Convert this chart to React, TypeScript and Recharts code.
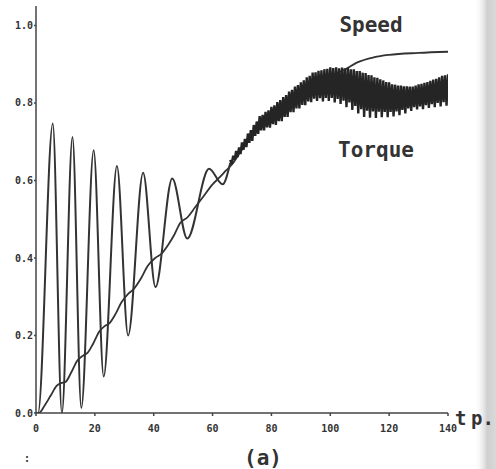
import { LineChart, Line, XAxis, YAxis } from "recharts";

// time (t p.) and per-unit speed
const speedT = [0, 1, 3, 5, 7, 8.5, 10, 12, 14, 16, 17.5, 19.5, 21.5, 23.5, 25, 27, 29, 31.4, 33, 35.5, 38, 40.5, 42.5, 45, 47, 49, 51.5, 54, 57, 60, 62, 64.5, 67, 70, 76, 82, 88, 94, 100, 105, 109, 115, 120, 130, 140];
const speedV = [0, 0, 0.02, 0.045, 0.07, 0.077, 0.08, 0.105, 0.135, 0.148, 0.155, 0.18, 0.21, 0.225, 0.232, 0.255, 0.285, 0.308, 0.318, 0.345, 0.38, 0.4, 0.41, 0.435, 0.46, 0.49, 0.505, 0.53, 0.56, 0.59, 0.605, 0.625, 0.645, 0.68, 0.745, 0.78, 0.82, 0.85, 0.87, 0.886, 0.904, 0.918, 0.924, 0.929, 0.932];

// torque during start-up swings (peaks and troughs)
const torqueT = [0, 0.7, 5.7, 8.8, 12.4, 15.4, 19.6, 23, 27.5, 31.3, 36.4, 40.6, 46.3, 51.4, 58.8, 63.4, 66];
const torqueV = [0, 0, 0.747, 0, 0.712, 0.013, 0.678, 0.094, 0.637, 0.2, 0.62, 0.325, 0.605, 0.45, 0.63, 0.59, 0.645];

// ripple band after t = 66, one value every 0.5
const bandT0 = 66;
const bandStep = 0.5;
const torqueBand = [
  0.653, 0.642, 0.664, 0.653, 0.676, 0.66, 0.685, 0.668, 0.698, 0.679,
  0.707, 0.686, 0.721, 0.697, 0.73, 0.702, 0.743, 0.715, 0.752, 0.72,
  0.766, 0.729, 0.769, 0.729, 0.777, 0.737, 0.781, 0.736, 0.79, 0.745,
  0.794, 0.743, 0.802, 0.753, 0.807, 0.753, 0.815, 0.764, 0.82, 0.764,
  0.829, 0.776, 0.834, 0.776, 0.842, 0.786, 0.846, 0.786, 0.853, 0.795,
  0.858, 0.794, 0.866, 0.804, 0.87, 0.802, 0.878, 0.811, 0.879, 0.805,
  0.883, 0.812, 0.884, 0.804, 0.887, 0.813, 0.888, 0.805, 0.892, 0.813,
  0.89, 0.801, 0.892, 0.81, 0.889, 0.797, 0.891, 0.806, 0.889, 0.789,
  0.891, 0.801, 0.887, 0.782, 0.887, 0.792, 0.882, 0.773, 0.882, 0.784,
  0.878, 0.764, 0.877, 0.78, 0.872, 0.762, 0.871, 0.778, 0.866, 0.761,
  0.865, 0.777, 0.861, 0.763, 0.858, 0.777, 0.854, 0.763, 0.853, 0.777,
  0.848, 0.765, 0.847, 0.778, 0.845, 0.768, 0.845, 0.782, 0.843, 0.773,
  0.843, 0.786, 0.842, 0.779, 0.842, 0.789, 0.845, 0.783, 0.848, 0.791,
  0.849, 0.784, 0.852, 0.794, 0.854, 0.787, 0.857, 0.797, 0.86, 0.789,
  0.862, 0.8, 0.866, 0.791, 0.87, 0.802, 0.871, 0.793, 0.874,
];

const xTicks = [0, 20, 40, 60, 80, 100, 120, 140];
const yTicks = [0, 0.2, 0.4, 0.6, 0.8, 1.0];

const speedData = speedT.map((t, i) => ({ t, v: speedV[i] }));
const torqueData = torqueT.map((t, i) => ({ t, v: torqueV[i] }));
const bandData = torqueBand.map((v, i) => ({ t: bandT0 + i * bandStep, v }));

const ink = "#333";
const mono = "'DejaVu Sans Mono', monospace";

export default function App() {
  return (
    <div style={{ position: "absolute", left: 0, top: 0, width: 496, height: 469, background: "#fff" }}>
      <LineChart width={496} height={469} margin={{ top: 6, right: 48, bottom: 26, left: 0 }}>
        <XAxis
          type="number"
          dataKey="t"
          domain={[0, 140]}
          ticks={xTicks}
          allowDataOverflow
          stroke="#444"
          strokeWidth={1.5}
          tickSize={3}
          tickMargin={9}
          height={30}
          tick={{ fill: ink, fontSize: 10, fontWeight: "bold", fontFamily: mono }}
        />
        <YAxis
          type="number"
          domain={[0, 1.05]}
          ticks={yTicks}
          allowDataOverflow
          width={36}
          stroke="#444"
          strokeWidth={1.5}
          tickSize={2}
          tickMargin={1}
          tickFormatter={(v: number) => v.toFixed(1)}
          tick={{ fill: ink, fontSize: 10, fontWeight: "bold", fontFamily: mono }}
        />
        <Line data={speedData} dataKey="v" type="monotone" stroke={ink} strokeWidth={1.8} dot={false} isAnimationActive={false} />
        <Line data={torqueData} dataKey="v" type="monotone" stroke={ink} strokeWidth={2} dot={false} isAnimationActive={false} />
        <Line data={bandData} dataKey="v" type="linear" stroke="#252525" strokeWidth={2.4} dot={false} isAnimationActive={false} />
      </LineChart>
      <svg width={496} height={469} style={{ position: "absolute", left: 0, top: 0, pointerEvents: "none" }}>
        <defs>
          <linearGradient id="edge" x1="0" x2="1" y1="0" y2="0">
            <stop offset="0" stopColor="#fff" stopOpacity={0} />
            <stop offset="0.6" stopColor="#cfcfcf" />
            <stop offset="1" stopColor="#d9d9d9" />
          </linearGradient>
        </defs>
        <rect x={474} y={0} width={22} height={469} fill="url(#edge)" />
        <g fill={ink} fontFamily={mono} fontWeight="bold">
          <text x={371} y={32} fontSize={21} textAnchor="middle">Speed</text>
          <text x={376} y={157} fontSize={21} textAnchor="middle">Torque</text>
          <text x={455} y={425} fontSize={19}>t</text>
          <text x={471} y={425} fontSize={19}>p.</text>
          <text x={263} y={465} fontSize={21} textAnchor="middle">(a)</text>
          <text x={24} y={462} fontSize={10}>:</text>
        </g>
      </svg>
    </div>
  );
}
